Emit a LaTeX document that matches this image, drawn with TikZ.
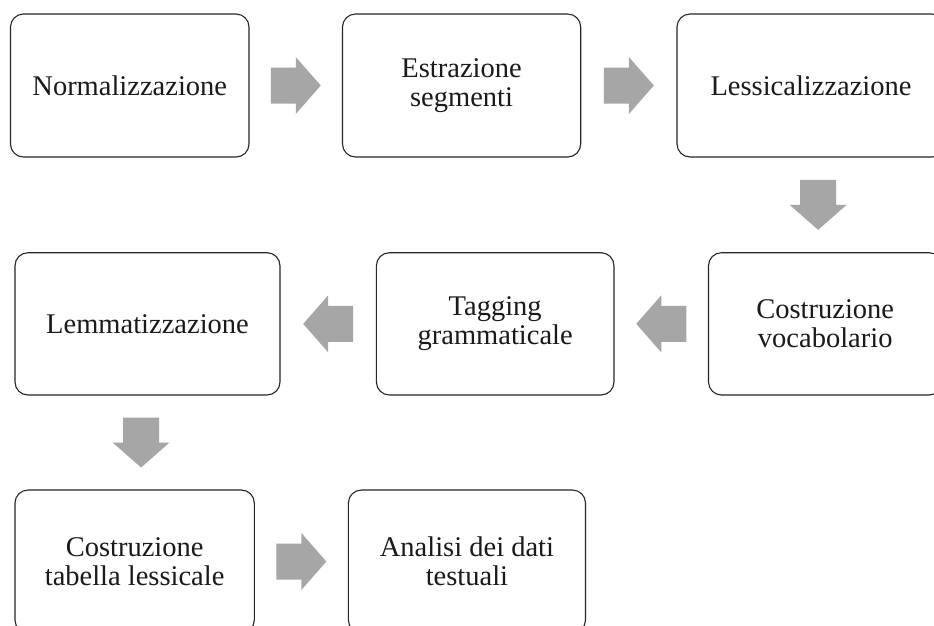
\documentclass[tikz,border=0pt]{standalone}
\usepackage{fontspec}
\setmainfont{Liberation Serif}
\usetikzlibrary{calc}
\definecolor{arrowgray}{HTML}{A6A6A6}
\definecolor{boxline}{HTML}{262626}
\definecolor{txt}{HTML}{1A1A1A}
\tikzset{
  stepbox/.style={draw=boxline, line width=1.1pt, rounded corners=13pt, fill=white,
    align=center, text=txt, inner sep=2pt,
    font=\fontsize{28.5}{29}\selectfont},
  blockfill/.style={fill=arrowgray, draw=none}
}
\newcommand{\blockarrow}[4]{%
  \coordinate (#1) at ($(#2)!0.5!(#3)$);
  \fill[blockfill, shift={(#1)}, rotate=#4]
    (-25,-18) -- (0,-18) -- (0,-28.5) -- (25,0) -- (0,28.5) -- (0,18) -- (-25,18) -- cycle;
}
\begin{document}
\begin{tikzpicture}[x=1pt,y=-1pt]
\clip (0,0) rectangle (934,625);
\fill[white] (0,0) rectangle (934,625);
% row 1
\node[stepbox, minimum width=238.5pt, minimum height=143pt] (b1) at (129.75,85.5) {Normalizzazione};
\node[stepbox, minimum width=238.2pt, minimum height=143pt] (b2) at (461.6,85.5) {Estrazione\\segmenti};
\node[stepbox, minimum width=268pt, minimum height=143pt] (b3) at (811,85.5) {Lessicalizzazione};
% row 2
\node[stepbox, minimum width=265pt, minimum height=142.3pt] (b4) at (147.5,323.85) {Lemmatizzazione};
\node[stepbox, minimum width=237.6pt, minimum height=142.3pt] (b5) at (495.2,323.85) {Tagging\\grammaticale};
\node[stepbox, minimum width=233.5pt, minimum height=142.3pt] (b6) at (825.25,323.85) {Costruzione\\vocabolario};
% row 3
\node[stepbox, minimum width=239.3pt, minimum height=143pt] (b7) at (134.65,561.5) {Costruzione\\tabella lessicale};
\node[stepbox, minimum width=237.1pt, minimum height=143pt] (b8) at (466.95,561.5) {Analisi dei dati\\testuali};
% block arrows
\blockarrow{a1}{b1.east}{b2.west}{0}
\blockarrow{a2}{b2.east}{b3.west}{0}
\blockarrow{a3}{b3.south}{b6.north}{-90}
\blockarrow{a4}{b5.west}{b4.east}{180}
\blockarrow{a5}{b6.west}{b5.east}{180}
\blockarrow{a6}{b4.south}{b7.north}{-90}
\blockarrow{a7}{b7.east}{b8.west}{0}
\end{tikzpicture}
\end{document}
